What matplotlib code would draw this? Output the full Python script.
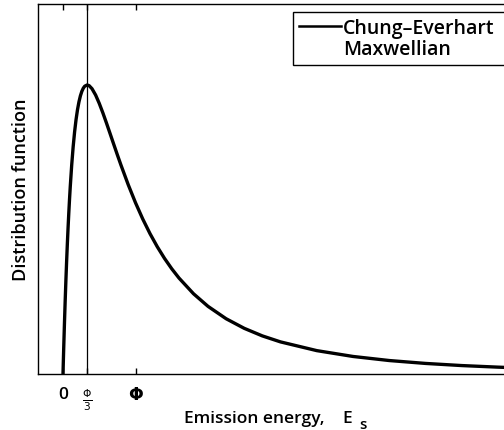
import matplotlib
matplotlib.use("Agg")
import matplotlib.pyplot as plt
from matplotlib.lines import Line2D

# Emission energy in units of the work function (Phi)
energy = [0.0, 0.005, 0.01, 0.02, 0.03, 0.04, 0.05, 0.06, 0.07, 0.08, 0.09,
          0.10, 0.12, 0.14, 0.16, 0.18, 0.20, 0.22, 0.24, 0.26, 0.28, 0.30,
          0.333, 0.36, 0.40, 0.45, 0.50, 0.55, 0.60, 0.65, 0.70, 0.75, 0.80,
          0.90, 1.00, 1.10, 1.20, 1.30, 1.40, 1.50, 1.60, 1.80, 2.00, 2.25,
          2.50, 2.75, 3.00, 3.50, 4.00, 4.50, 5.00, 5.50, 6.00, 6.20]
# Distribution function, normalised to the peak height
distribution = [0.0, 0.0465, 0.0911, 0.1752, 0.2527, 0.3242, 0.3900, 0.4506,
                0.5063, 0.5575, 0.6045, 0.6476, 0.7231, 0.7859, 0.8378, 0.8803,
                0.9145, 0.9416, 0.9625, 0.9781, 0.9890, 0.9959, 1.0, 0.9978,
                0.9872, 0.9652, 0.9364, 0.9035, 0.8681, 0.8315, 0.7947, 0.7582,
                0.7226, 0.6548, 0.5926, 0.5363, 0.4857, 0.4405, 0.4001, 0.3641,
                0.3320, 0.2777, 0.2341, 0.1912, 0.1580, 0.1318, 0.1111, 0.0809,
                0.0607, 0.0466, 0.0366, 0.0292, 0.0237, 0.0219]

tick_pos = [0.0, 1.0 / 3.0, 1.0]
tick_labels = ["0", r"$\frac{\Phi}{3}$", r"$\mathbf{\Phi}$"]
series_labels = ["Chung\u2013Everhart", "Maxwellian"]

plt.rcParams["font.family"] = ["Open Sans", "DejaVu Sans"]
plt.rcParams["mathtext.fontset"] = "dejavusans"

W, H = 504, 431
fig = plt.figure(figsize=(W / 100, H / 100), dpi=100)
ax_left, ax_right, ax_bottom, ax_top = 38, 512, 375, 5
ax = fig.add_axes([ax_left / W, 1 - ax_bottom / H, (ax_right - ax_left) / W,
                   (ax_bottom - ax_top) / H])

x0_px, phi_px = 63.0, 72.5
ax.set_xlim((ax_left - x0_px) / phi_px, (ax_right - x0_px) / phi_px)
peak_px = 375 - 86
ax.set_ylim(0, (ax_bottom - ax_top) / peak_px)

ax.plot(energy, distribution, color="black", lw=2.4, solid_capstyle="butt",
        solid_joinstyle="round", label=series_labels[0])
ax.axvline(1.0 / 3.0, color="black", lw=0.9)

for s in ax.spines.values():
    s.set_linewidth(1.0)
ax.spines["right"].set_visible(False)

ax.set_xticks(tick_pos)
ax.set_xticklabels(tick_labels)
ax.tick_params(axis="x", direction="in", top=True, length=4, width=1,
               labelsize=12.5, pad=9)
for lbl in ax.get_xticklabels():
    lbl.set_fontweight("semibold")
ax.get_xticklabels()[1].set_fontsize(11)
ax.set_yticks([])

ax.set_ylabel("Distribution function", fontsize=13, fontweight="semibold",
              labelpad=6)
fig.text(184 / W, 1 - 423 / H, "Emission energy,", fontsize=12.5,
         fontweight="semibold", va="baseline", ha="left")
fig.text(342 / W, 1 - 423 / H, "E", fontsize=12.5, fontweight="semibold",
         va="baseline", ha="left")
fig.text(359 / W, 1 - 429.5 / H, "s", fontsize=11, fontweight="semibold",
         va="baseline", ha="left")

handles = [Line2D([], [], color="black", lw=1.8),
           Line2D([], [], linestyle="none")]
leg = fig.legend(handles, series_labels, loc="upper left",
                 bbox_to_anchor=(292.7 / W, 1 - 66.7 / H, (530 - 292.7) / W,
                                 54 / H),
                 mode="expand",
                 frameon=True, fancybox=False, shadow=False, framealpha=1,
                 edgecolor="black", fontsize=14, handlelength=2.2,
                 handletextpad=0.1, borderpad=0.3, labelspacing=0.1,
                 borderaxespad=0)
leg.get_frame().set_linewidth(1.0)
for t in leg.get_texts():
    t.set_fontweight("semibold")

fig.savefig("out.png", dpi=100)
